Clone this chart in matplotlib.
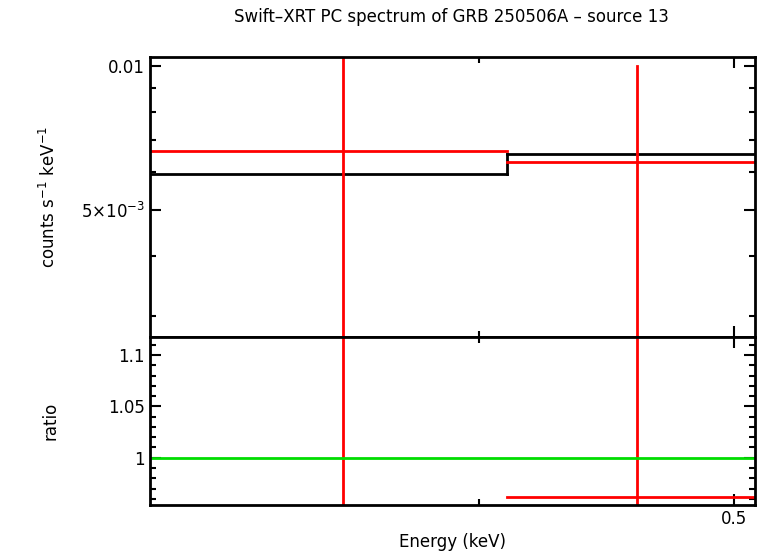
import numpy as np
import matplotlib.pyplot as plt
from matplotlib.ticker import FixedLocator, NullFormatter, NullLocator

# bins (keV)
e_lo = [0.300, 0.410]
e_hi = [0.410, 0.509]
e_mid = [0.355, 0.459]
data = [0.00664, 0.00630]
err_lo = [0.0040, 0.0036]
err_hi = [0.0050, 0.0037]
model = [0.00594, 0.00655]
ratio = [1.118, 0.962]
ratio_lo = [0.6, 0.6]
ratio_hi = [0.6, 0.6]

fig = plt.figure(figsize=(7.59, 5.56), dpi=100)
ax1 = fig.add_axes([0.1976, 0.3939, 0.797, 0.5036])
ax2 = fig.add_axes([0.1976, 0.0917, 0.797, 0.3022], sharex=ax1)

# model step
xs = [e_lo[0], e_hi[0], e_hi[0], e_hi[1]]
ax1.plot([e_lo[0], e_hi[0]], [model[0]] * 2, color='black', lw=2)
ax1.plot([e_lo[1], e_hi[1]], [model[1]] * 2, color='black', lw=2)
ax1.plot([e_hi[0], e_hi[0]], [model[0], model[1]], color='black', lw=2)
for i in range(2):
    ax1.plot([e_lo[i], e_hi[i]], [data[i]] * 2, color='red', lw=2)
    ax1.plot([e_mid[i]] * 2, [data[i] - err_lo[i], data[i] + err_hi[i]], color='red', lw=2)
    ax2.plot([e_lo[i], e_hi[i]], [ratio[i]] * 2, color='red', lw=2)
    ax2.plot([e_mid[i]] * 2, [ratio[i] - ratio_lo[i], ratio[i] + ratio_hi[i]], color='red', lw=2)
ax2.axhline(1, color='#00dd00', lw=2)

ax1.set_xscale('log')
ax1.set_xlim(0.300, 0.509)
ax1.set_yscale('log')
ax1.set_ylim(0.00271, 0.01044)
ax1.yaxis.set_major_locator(FixedLocator([0.005, 0.01]))
ax1.yaxis.set_minor_locator(FixedLocator([0.003, 0.004, 0.006, 0.007, 0.008, 0.009]))
ax1.set_yticklabels(['5×10$^{-3}$', '0.01'])
ax1.yaxis.set_minor_formatter(NullFormatter())
ax1.set_ylabel('counts s$^{-1}$ keV$^{-1}$', fontsize=12)
ax1.tick_params(labelbottom=False)

ax2.set_ylim(0.954, 1.1175)
ax2.set_yticks([1, 1.05, 1.1])
ax2.set_yticklabels(['1', '1.05', '1.1'])
ax2.yaxis.set_minor_locator(FixedLocator(np.arange(0.96, 1.12, 0.01)))
ax2.xaxis.set_major_locator(FixedLocator([0.5]))
ax2.xaxis.set_minor_locator(FixedLocator([0.4]))
ax2.xaxis.set_major_formatter(plt.FixedFormatter(['0.5']))
ax2.xaxis.set_minor_formatter(NullFormatter())
ax2.set_xlabel('Energy (keV)', fontsize=12)
ax2.set_ylabel('ratio', fontsize=12)

for ax in (ax1, ax2):
    ax.tick_params(which='both', direction='in', top=True, right=True, labelsize=12, width=1.5)
    ax.tick_params(which='major', length=8)
    ax.tick_params(which='minor', length=4)
    for s in ax.spines.values():
        s.set_linewidth(2)
ax1.yaxis.set_label_coords(-0.15, 0.5)
ax2.yaxis.set_label_coords(-0.15, 0.5)

fig.suptitle('Swift–XRT PC spectrum of GRB 250506A – source 13', x=0.595, y=0.985, fontsize=12)
fig.savefig('out.png', dpi=100)
